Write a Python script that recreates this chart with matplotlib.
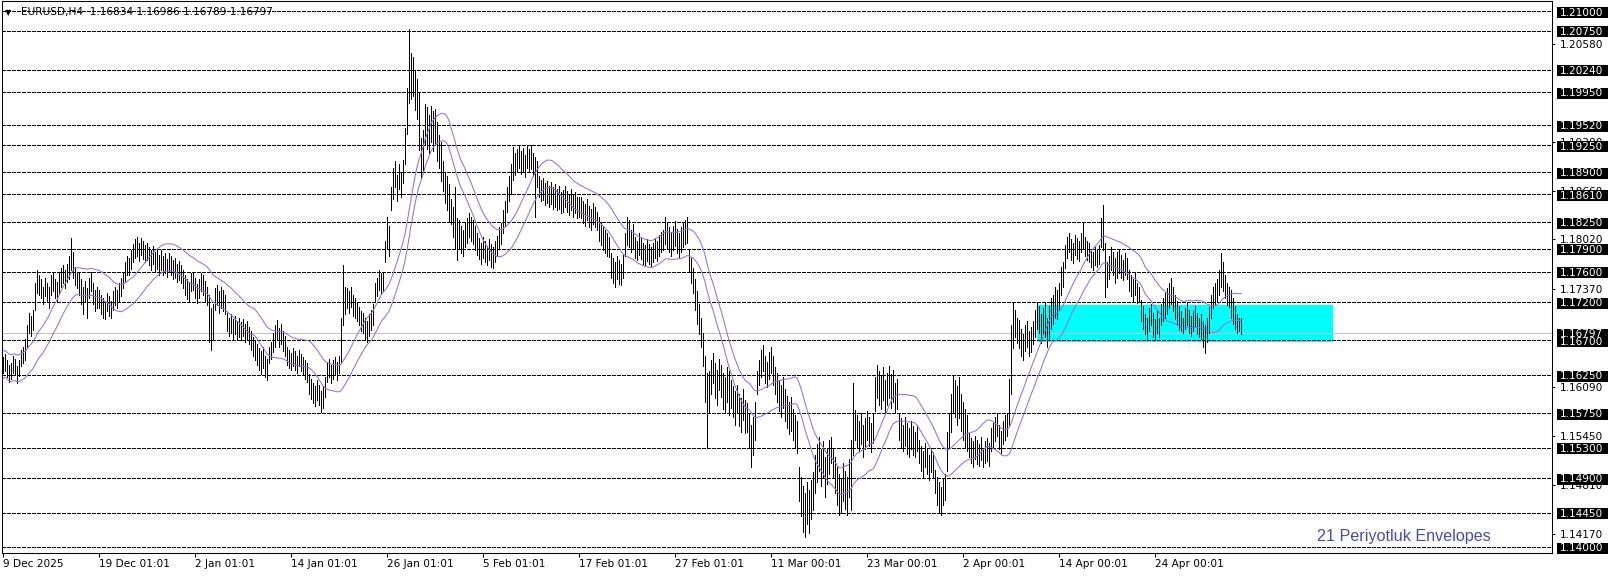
import numpy as np
import pandas as pd
import matplotlib
matplotlib.use("Agg")
import matplotlib.pyplot as plt
from matplotlib.patches import Rectangle
from matplotlib.transforms import IdentityTransform

W, H, DPI = 1616, 577, 100
plt.rcParams['font.family'] = ['DejaVu Sans']

# H4 bars, prices given in pips above 1.14000
base = 1.14
high_pips = [
    248, 252, 244, 238, 240, 250, 246, 236, 245, 258, 262,
    272, 290, 306, 302, 310,
    345, 362, 355, 350, 340,
    352, 345, 340, 355, 360, 350, 346, 358, 365, 368, 362, 370,
    380, 404, 385, 366, 360,
    358, 350, 340, 348, 338, 352, 360, 345, 336, 340,
    336, 330, 325, 320, 332, 328, 322, 334, 340, 336,
    345, 352, 360, 372, 380, 378, 388, 396,
    402, 405, 398, 404, 400, 395, 398,
    392, 388, 394, 386, 390, 382, 388, 380, 384, 376,
    384, 380, 375, 378, 370, 374, 368,
    362, 356, 350, 345, 358, 360, 352, 344, 350,
    358, 355, 348, 340, 330, 312, 318,
    338, 342, 335, 340, 336, 330,
    306, 300, 304, 298, 302, 296, 300, 294, 298, 292, 296, 288,
    282, 275, 270, 266, 260, 256, 262, 250, 246,
    262, 268, 280, 290, 297, 286, 292, 282, 276,
    262, 258, 254, 260, 256, 250, 258, 252, 248, 244, 240,
    226, 220, 214, 210, 218, 212, 204, 210, 222,
    240, 246, 238, 244, 248, 242, 250,
    300, 368, 340,
    338, 334, 340, 330, 326, 320, 314, 308,
    306, 300, 296, 304, 310, 318,
    345, 352, 362, 358, 360,
    400, 431, 420,
    470, 495, 505, 486, 500, 490, 506,
    548, 600, 677, 646, 640, 623, 612, 594,
    534, 545, 579, 575, 565, 577, 570, 573, 555,
    539, 530, 504, 490, 485, 475, 455, 445, 470, 430,
    427, 420, 415, 425, 430, 437, 432, 428, 420,
    410, 404, 398, 405, 400, 394, 402, 396, 392, 400, 406,
    418, 424, 440, 452, 470, 485,
    500, 523, 515, 520,
    525, 518, 522, 512, 524, 520, 525, 515, 510, 505,
    485, 480, 482, 476, 479, 472, 477, 470, 474, 468, 472, 464, 467,
    472, 466, 462, 468, 460, 464, 457, 458,
    457, 452, 448, 455, 446, 442, 450, 444, 438,
    431, 425, 420, 414, 410, 405,
    384, 378, 372, 380, 375, 370, 382,
    410, 431, 428, 415, 422, 405, 400,
    410, 404, 398, 395, 402, 396, 392, 398, 404, 400, 408, 412, 414,
    431, 425, 418, 412, 420, 426, 416, 410, 418, 424, 428, 431,
    388, 378, 365,
    350, 335, 318, 300, 280, 250, 227, 230,
    245, 253, 240, 232, 246, 238, 228, 222, 235, 230,
    218, 210, 204, 212, 200, 195, 206, 192, 188,
    175, 160, 170, 190,
    230, 245, 258, 264, 250, 242, 255, 262, 250,
    235, 228, 218, 212, 222, 206, 198, 190, 196, 180, 172, 165,
    105, 92, 80, 70, 85, 75, 88, 98,
    120, 135, 144, 128, 138, 118, 130, 140,
    144, 130, 118, 105, 96, 90, 110, 100, 92, 115,
    140, 214,
    179, 172, 165, 175, 160, 168, 178, 170, 162, 174,
    222, 238, 230, 225, 235, 218, 228, 236, 226, 232, 215, 220,
    175, 168, 160, 170, 162, 155, 165, 158, 150, 160,
    140, 132, 125, 136, 128, 120, 130, 124,
    101, 92, 85, 78, 90, 96,
    150, 175, 200, 225, 218, 210, 222, 200, 190, 180, 172,
    149, 142, 138, 145, 140, 135, 144, 130, 138, 142, 136,
    155, 162, 170, 175, 160, 152, 165, 172, 175,
    220, 290, 319, 310, 300,
    297, 285, 278, 290, 295, 282, 288, 296,
    310, 320, 315, 305, 312,
    320, 300, 315, 325, 330, 340, 336, 345,
    366, 372,
    395, 405, 410, 402, 398, 408, 404, 400, 410, 424, 405, 400,
    397, 390, 385, 392, 388, 395,
    430, 447, 398,
    372, 380, 392, 386, 378, 385,
    388, 382, 375, 384, 378,
    362, 355, 350, 358, 345, 340,
    323, 315, 305, 300, 312, 318, 306, 298, 310, 300,
    318, 325, 332, 338, 345, 352, 340, 330, 322, 315, 308, 300,
    312, 319, 310, 302, 308, 315, 306, 300,
    305, 296, 290, 300, 314,
    330, 340, 345, 350, 362, 384, 372, 355, 345, 340,
    336, 325, 315, 305, 300, 299,
]
low_pips = [
    228, 230, 222, 216, 220, 228, 225, 214, 224, 236, 240,
    245, 262, 280, 276, 284,
    310, 332, 330, 325, 318,
    328, 320, 312, 330, 335, 326, 322, 332, 340, 345, 338, 346,
    350, 362, 352, 342, 338,
    330, 318, 305, 320, 300, 326, 334, 318, 308, 312,
    312, 305, 300, 298, 308, 302, 300, 310, 316, 312,
    320, 328, 338, 348, 356, 355, 364, 372,
    378, 380, 374, 382, 376, 372, 375,
    368, 362, 370, 360, 364, 355, 362, 356, 358, 353,
    360, 355, 350, 352, 346, 349, 345,
    338, 330, 324, 320, 334, 336, 326, 319, 326,
    334, 330, 322, 316, 268, 257, 270,
    310, 316, 306, 312, 308, 304,
    282, 276, 280, 272, 278, 270, 274, 270, 276, 268, 272, 265,
    258, 250, 244, 238, 232, 226, 234, 222, 218,
    240, 246, 255, 262, 270, 262, 266, 256, 250,
    238, 234, 231, 236, 232, 228, 236, 230, 226, 220, 216,
    200, 194, 188, 184, 192, 186, 176, 182, 196,
    216, 222, 214, 220, 226, 218, 228,
    240, 290, 305,
    312, 306, 314, 302, 300, 296, 290, 282,
    280, 272, 268, 276, 284, 290,
    320, 328, 336, 332, 334,
    372, 390, 380,
    440, 455, 470, 452, 468, 458, 476,
    500, 540, 580, 585, 590, 571, 560, 519,
    482, 490, 525, 520, 515, 530, 517, 525, 505,
    495, 478, 465, 450, 440, 425, 422, 405, 390, 375,
    390, 384, 380, 392, 398, 405, 400, 396, 388,
    382, 376, 370, 378, 372, 368, 375, 366, 365, 372, 380,
    390, 396, 410, 420, 438, 452,
    462, 480, 486, 490,
    495, 488, 492, 484, 496, 490, 494, 486, 431, 470,
    457, 452, 454, 447, 450, 444, 448, 442, 444, 440, 442, 437, 438,
    444, 438, 434, 440, 432, 436, 430, 432,
    430, 424, 420, 428, 418, 414, 422, 418, 414,
    400, 395, 388, 384, 380, 379,
    352, 345, 340, 350, 344, 342, 352,
    380, 395, 392, 385, 390, 378, 375,
    382, 376, 370, 368, 374, 370, 366, 372, 378, 374, 380, 386, 388,
    396, 390, 386, 380, 388, 394, 384, 378, 386, 392, 396, 398,
    360, 345, 332,
    310, 292, 278, 262, 236, 190, 129, 175,
    200, 215, 195, 185, 205, 196, 180, 175, 190, 172,
    182, 170, 160, 175, 158, 150, 166, 149, 150,
    130, 105, 120, 140,
    200, 212, 222, 230, 215, 209, 220, 228, 212,
    200, 190, 178, 170, 182, 165, 156, 148, 152, 140, 130, 123,
    60, 40, 20, 13, 30, 18, 36, 48,
    70, 85, 100, 80, 92, 65, 82, 95,
    110, 92, 70, 55, 42, 45, 60, 50, 42, 66,
    48, 120,
    140, 130, 125, 135, 118, 128, 140, 132, 124, 136,
    178, 195, 186, 180, 192, 175, 185, 195, 182, 190, 176, 180,
    140, 130, 125, 132, 122, 118, 128, 120, 118, 125,
    110, 100, 92, 104, 95, 88, 98, 92,
    70, 55, 46, 42, 55, 62,
    100, 130, 150, 175, 170, 160, 168, 152, 140, 130, 125,
    118, 110, 105, 115, 108, 106, 114, 105, 110, 112, 106,
    125, 130, 138, 145, 128, 123, 135, 140, 145,
    160, 200, 260, 275, 267,
    260, 250, 244, 256, 262, 250, 255, 265,
    275, 285, 280, 267, 278,
    275, 261, 270, 285, 292, 300, 298, 310,
    330, 340,
    365, 378, 385, 375, 371, 382, 376, 374, 386, 390, 380, 375,
    372, 366, 362, 368, 366, 370,
    392, 388, 327,
    340, 350, 362, 355, 345, 352,
    358, 352, 349, 356, 350,
    335, 328, 322, 330, 319, 320,
    295, 285, 278, 271, 282, 290, 275, 272, 280, 274,
    290, 296, 300, 305, 312, 318, 308, 298, 290, 284, 282, 280,
    285, 290, 280, 276, 282, 288, 278, 275,
    272, 262, 254, 268, 280,
    300, 312, 318, 322, 330, 340, 335, 325, 316, 314,
    300, 292, 285, 280, 282, 279,
]
assert len(high_pips) == len(low_pips), (len(high_pips), len(low_pips))

date_labels = ["9 Dec 2025", "19 Dec 01:01", "2 Jan 01:01", "14 Jan 01:01",
               "26 Jan 01:01", "5 Feb 01:01", "17 Feb 01:01", "27 Feb 01:01",
               "11 Mar 00:01", "23 Mar 00:01", "2 Apr 00:01", "14 Apr 00:01",
               "24 Apr 00:01"]
bars_per_label = 48

levels = [1.21000, 1.20750, 1.20240, 1.19950, 1.19520, 1.19250, 1.18900,
          1.18610, 1.18250, 1.17900, 1.17600, 1.17200, 1.16700, 1.16250,
          1.15750, 1.15300, 1.14900, 1.14450, 1.14000]
# price scale ticks still visible next to the boxed levels
scale_ticks = [1.14170, 1.14810, 1.15450, 1.16090, 1.17370,
               1.18020, 1.18660, 1.19300, 1.20580]
last_price = 1.16797
header = "EURUSD,H4  1.16834 1.16986 1.16789 1.16797"

zone_bars = (517, 665)
zone_prices = (1.16684, 1.17163)

env_period = 21
env_dev = 0.15   # percent
env_label = "21 Periyotluk Envelopes"

hi = base + np.array(high_pips) / 10000
lo = base + np.array(low_pips) / 10000
x = np.arange(len(hi))

median = pd.Series((hi + lo) / 2)
ma = median.rolling(env_period, min_periods=1).mean()
upper = ma * (1 + env_dev / 100)
lower = ma * (1 - env_dev / 100)

fig = plt.figure(figsize=(W / DPI, H / DPI), dpi=DPI)
ax = fig.add_axes([2 / W, (H - 553) / H, 1550 / W, 552 / H])
px_per_unit = 7650
ax.set_xlim(-0.5, 774.5)
ax.set_ylim(1.14 - 6 / px_per_unit, 1.14 + 546 / px_per_unit)

ax.add_patch(Rectangle((zone_bars[0], zone_prices[0]), zone_bars[1] - zone_bars[0],
                       zone_prices[1] - zone_prices[0], facecolor='#00ffff',
                       edgecolor='none', zorder=0.5))
for lvl in levels:
    ax.axhline(lvl, color='black', lw=0.72, ls=(0, (3, 2)), antialiased=False, zorder=1)
ax.axhline(last_price, color='#c0c0c0', lw=0.72, antialiased=False, zorder=1)

ax.vlines(x, lo, hi, colors='black', linewidth=0.5, antialiased=False, zorder=2)
ax.plot(x, upper, color='#9370db', lw=0.75, zorder=3)
ax.plot(x, lower, color='#9370db', lw=0.75, zorder=3)

for s in ax.spines.values():
    s.set_linewidth(0.75)
    s.set_color('black')

ax.yaxis.tick_right()
ax.set_yticks(scale_ticks, labels=[f"{t:.5f}" for t in scale_ticks])
ax.tick_params(axis='y', length=2.5, width=0.75, pad=3, labelsize=7.6, colors='black')
ax.set_xticks(np.arange(len(date_labels)) * bars_per_label, labels=date_labels)
ax.tick_params(axis='x', length=3, width=0.75, pad=1.5, labelsize=7.6, colors='black')
for lbl in ax.get_xticklabels():
    lbl.set_ha('left')

# price labels in black boxes on the right scale
ident = IdentityTransform()
for lvl in levels + [last_price]:
    yd = ax.transData.transform((0, lvl))[1] - 1.3
    fig.add_artist(Rectangle((1557, yd - 5.5), 51, 11, facecolor='black',
                             edgecolor='none', transform=ident, zorder=5))
    fig.text(1560, yd, f"{lvl:.5f}", color='white', fontsize=7.6, va='center',
             ha='left', transform=ident, zorder=6)

fig.text(5, H - 12.5, "\u25bc", fontsize=6, va='center', ha='left', transform=ident)
fig.text(21, H - 12.5, header, fontsize=7.6, va='center', ha='left', transform=ident)
fig.text(1317, H - 537, env_label, fontsize=11.6, family='Liberation Sans',
         color='#4a4aa8', va='center', ha='left', transform=ident)

fig.savefig("out.png", dpi=DPI)
